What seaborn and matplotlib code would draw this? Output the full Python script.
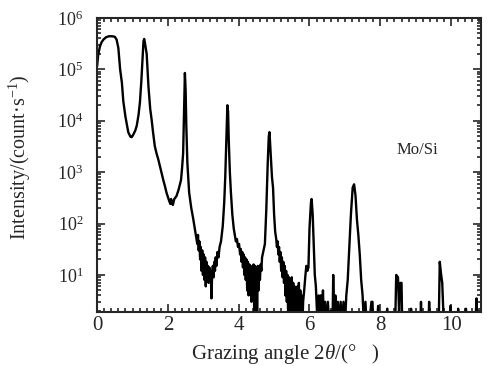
import matplotlib
matplotlib.use("Agg")
import matplotlib.pyplot as plt
import matplotlib.ticker as mticker
import numpy as np
import pandas as pd
import seaborn as sns

angle = [0.00, 0.03, 0.08, 0.13, 0.18, 0.25, 0.33, 0.42, 0.50, 0.55, 0.60, 0.65, 0.70, 0.74, 0.80,
         0.88, 0.94, 0.98, 1.03, 1.08, 1.12, 1.17, 1.21, 1.25, 1.28, 1.31, 1.33, 1.36, 1.40, 1.45,
         1.50, 1.54, 1.58, 1.63, 1.68, 1.73, 1.80, 1.87, 1.92, 1.96, 2.00, 2.04, 2.07, 2.09, 2.11,
         2.14, 2.18, 2.24, 2.30, 2.37, 2.40, 2.43, 2.45, 2.48, 2.50, 2.52, 2.55, 2.60, 2.66, 2.71,
         2.76, 2.80, 2.83, 2.85, 2.87, 2.89, 2.91, 2.93, 2.95, 2.97, 2.99, 3.01, 3.03, 3.05, 3.07,
         3.09, 3.11, 3.13, 3.15, 3.17, 3.19, 3.21, 3.23, 3.25, 3.27, 3.29, 3.31, 3.33, 3.35, 3.37,
         3.40, 3.43, 3.46, 3.50, 3.55, 3.59, 3.62, 3.65, 3.68, 3.70, 3.72, 3.75, 3.78, 3.82, 3.86,
         3.89, 3.92, 3.95, 3.98, 4.01, 4.04, 4.06, 4.08, 4.10, 4.12, 4.14, 4.16, 4.18, 4.20, 4.22,
         4.24, 4.26, 4.28, 4.30, 4.32, 4.34, 4.36, 4.38, 4.40, 4.42, 4.44, 4.46, 4.48, 4.50, 4.52,
         4.54, 4.56, 4.58, 4.60, 4.62, 4.64, 4.66, 4.70, 4.74, 4.78, 4.82, 4.85, 4.87, 4.90, 4.94,
         4.97, 5.00, 5.03, 5.06, 5.08, 5.10, 5.12, 5.14, 5.16, 5.18, 5.20, 5.22, 5.24, 5.26, 5.28,
         5.30, 5.32, 5.34, 5.36, 5.38, 5.40, 5.42, 5.44, 5.46, 5.48, 5.50, 5.52, 5.54, 5.56, 5.58,
         5.60, 5.62, 5.64, 5.66, 5.68, 5.70, 5.72, 5.74, 5.76, 5.78, 5.80, 5.82, 5.85, 5.88, 5.91,
         5.94, 5.97, 6.00, 6.04, 6.06, 6.09, 6.12, 6.15, 6.18, 6.20, 6.23, 6.26, 6.29, 6.32, 6.35,
         6.38, 6.41, 6.44, 6.48, 6.52, 6.56, 6.60, 6.65, 6.67, 6.70, 6.73, 6.76, 6.80, 6.84, 6.88,
         6.92, 6.96, 7.00, 7.04, 7.08, 7.12, 7.17, 7.22, 7.26, 7.30, 7.34, 7.38, 7.42, 7.46, 7.50,
         7.54, 7.58, 7.62, 7.68, 7.75, 7.78, 7.80, 7.90, 7.94, 7.96, 8.10, 8.20, 8.22, 8.42, 8.45,
         8.50, 8.53, 8.56, 8.60, 8.62, 8.85, 8.87, 8.89, 9.13, 9.15, 9.17, 9.36, 9.38, 9.40, 9.65,
         9.68, 9.72, 9.75, 9.78, 9.80, 9.95, 9.98, 10.00, 10.18, 10.20, 10.22, 10.40, 10.42, 10.44, 10.68,
         10.72, 10.74, 10.85]

intensity = [1.15e5, 1.9e5, 2.8e5, 3.4e5, 3.8e5, 4.2e5, 4.4e5, 4.4e5, 4.3e5, 3.8e5, 2.6e5, 1.0e5, 5.5e4, 2.4e4, 1.2e4,
             6.0e3, 4.9e3, 4.8e3, 5.5e3, 6.5e3, 8e3, 1.3e4, 2.3e4, 6e4, 1.5e5, 3.5e5, 3.9e5, 3.0e5, 2.0e5, 4.7e4,
             1.7e4, 1.05e4, 6e3, 3.2e3, 2.3e3, 1.75e3, 1.1e3, 700, 520, 400, 330, 270, 240, 300, 260,
             230, 300, 340, 450, 700, 1.2e3, 2.3e3, 1e4, 8.5e4, 4e4, 8e3, 1.5e3, 400, 200, 130,
             80, 55, 40, 60, 30, 45, 20, 35, 12, 30, 10, 25, 8, 22, 6,
             18, 9, 15, 7, 14, 9, 12, 3.5, 11, 15, 9, 18, 12, 22, 15,
             28, 22, 35, 45, 90, 250, 800, 4000, 2e4, 1.5e4, 4e3, 1000, 400, 150, 80,
             60, 45, 50, 35, 40, 25, 32, 18, 28, 14, 25, 10, 22, 8, 20,
             5, 18, 4, 16, 6, 15, 3, 14, 5, 16, 1.5, 15, 4, 14, 2,
             15, 5, 14, 8, 16, 12, 22, 30, 40, 190, 1500, 5000, 6000, 2500, 800,
             500, 150, 70, 50, 35, 45, 25, 35, 18, 28, 12, 22, 9, 18, 7,
             15, 4, 12, 3, 10, 1, 9, 1, 8, 1, 9, 1, 7, 2, 6,
             1, 5, 1, 6, 2, 7, 1, 5, 1, 4, 1, 3, 5, 9, 15,
             12, 14, 80, 250, 300, 150, 40, 10, 6, 3, 1, 4, 1, 4, 1,
             5, 1, 3, 1, 3, 1, 2, 1, 10, 1, 4, 1, 3, 1, 3,
             1, 3, 1, 4, 8, 30, 150, 500, 580, 350, 120, 60, 25, 8, 4,
             1, 3, 1, 1, 3, 3, 1, 1, 2.5, 1, 1, 2.2, 1, 1, 10,
             9, 2, 7, 7, 1, 1, 2.2, 1, 1, 3, 1, 1, 3, 1, 1,
             18, 10, 7, 2, 1, 1, 2.5, 1, 1, 2.2, 1, 1, 2.2, 1, 1,
             3.5, 1, 1]

df = pd.DataFrame({"angle": angle, "intensity": intensity})

sns.set_style("ticks")
plt.rcParams["font.family"] = ["Liberation Serif", "DejaVu Serif"]
plt.rcParams["mathtext.fontset"] = "custom"
plt.rcParams["mathtext.rm"] = "Liberation Serif"
plt.rcParams["mathtext.it"] = "Liberation Serif:italic"

fig = plt.figure(figsize=(4.88, 3.66), dpi=100)
ax = fig.add_axes([0.199, 0.1475, 0.787, 0.8035])

sns.lineplot(data=df, x="angle", y="intensity", ax=ax, color="black",
             linewidth=1.7, sort=False, estimator=None)

ax.set_yscale("log")
ax.set_xlim(0, 10.85)
ax.set_ylim(1.9, 1e6)
ax.xaxis.set_major_locator(mticker.MultipleLocator(2))
ax.xaxis.set_minor_locator(mticker.MultipleLocator(0.2))
ax.yaxis.set_major_locator(mticker.LogLocator(base=10, numticks=10))
ax.yaxis.set_minor_locator(mticker.LogLocator(base=10, subs=np.arange(2, 10), numticks=20))
ax.yaxis.set_minor_formatter(mticker.NullFormatter())

ax.tick_params(which="both", direction="in", top=True, right=True, width=1.2)
ax.tick_params(which="major", length=6)
ax.tick_params(which="minor", length=3)
ax.tick_params(axis="x", which="major", labelsize=15, pad=3)
ax.tick_params(axis="y", which="major", labelsize=13, pad=10)
for s in ax.spines.values():
    s.set_linewidth(1.5)
    s.set_visible(True)

ax.set_xlabel(r"Grazing angle 2$\it{\theta}$/(°   )", fontsize=15)
ax.set_ylabel(r"Intensity/(count·s$^{-1}$)", fontsize=14.5)
ax.xaxis.set_label_coords(0.49, -0.102)
ax.yaxis.set_label_coords(-0.166, 0.525)
ax.text(8.45, 10**3.44, "Mo/Si", fontsize=12, va="center", ha="left")

fig.savefig("out.png", dpi=100)
